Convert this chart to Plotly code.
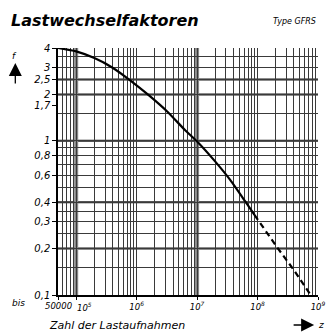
import plotly.graph_objects as go
import numpy as np

# Curve data (number of load cycles N, factor f)
curve_n_solid = [5e4, 1e5, 2e5, 4e5, 8e5, 1.6e6, 3.2e6, 6.3e6, 1e7, 2e7, 3.55e7, 6.3e7, 8.9e7]
curve_f_solid = [4.0, 3.80, 3.44, 2.98, 2.45, 1.97, 1.55, 1.175, 0.99, 0.733, 0.556, 0.403, 0.331]
curve_n_dash = [8.9e7, 2.1e8, 4.0e8, 7.3e8]
curve_f_dash = [0.331, 0.204, 0.145, 0.102]

# Axis labels
y_tick_vals = [0.1, 0.2, 0.3, 0.4, 0.6, 0.8, 1, 1.7, 2, 2.5, 3, 4]
y_tick_text = ["0,1", "0,2", "0,3", "0,4", "0,6", "0,8", "1", "1,7", "2", "2,5", "3", "4"]
y_grid_vals = [0.1, 0.15, 0.2, 0.25, 0.3, 0.35, 0.4, 0.5, 0.6, 0.7, 0.8, 0.9, 1, 1.5, 2, 2.5, 3, 3.5, 4]
y_thick = [2.5, 2, 1, 0.4, 0.2]

x_tick_vals = [5e4, 1e5, 1e6, 1e7, 1e8, 1e9]
x_tick_text = ["", "", "10<sup>6</sup>", "10<sup>7</sup>", "10<sup>8</sup>", "10<sup>9</sup>"]
x_low_label_vals = [5e4, 1e5]
x_low_label_text = ["50000", "10<sup>5</sup>"]
x_grid_vals = [m * 10 ** d for d in range(4, 9) for m in range(1, 10) if 5e4 <= m * 10 ** d <= 1e9] + [1e9]
x_thick = [1e5, 1e7]

FONT = "DejaVu Sans"
GRID = "#3a3a3a"

fig = go.Figure()
fig.add_trace(go.Scatter(x=curve_n_solid, y=curve_f_solid, mode="lines",
                         line=dict(color="black", width=2.2, shape="spline", smoothing=0.5),
                         showlegend=False))
fig.add_trace(go.Scatter(x=curve_n_dash, y=curve_f_dash, mode="lines",
                         line=dict(color="black", width=2.2, dash="6px,4px"), showlegend=False))

for yv in y_thick:
    fig.add_shape(type="line", xref="paper", yref="y", x0=0, x1=1, y0=yv, y1=yv,
                  line=dict(color="#1a1a1a", width=2), layer="below")
for xv in x_thick:
    fig.add_shape(type="line", xref="x", yref="paper", x0=xv, x1=xv, y0=0, y1=1,
                  line=dict(color="#888", width=4), layer="below")

fig.update_layout(
    width=335, height=334,
    margin=dict(l=58, r=9, t=48, b=39),
    paper_bgcolor="white", plot_bgcolor="white",
    showlegend=False,
    font=dict(family=FONT, color="black"),
    xaxis=dict(type="log", range=[np.log10(5e4), 9],
               tickmode="array", tickvals=x_tick_vals, ticktext=x_tick_text,
               tickfont=dict(size=8.5, style="italic", family=FONT), tickangle=0,
               ticks="outside", ticklen=3, tickcolor="black",
               showgrid=False, zeroline=False,
               showline=True, linecolor="black", linewidth=1.5,
               minor=dict(tickmode="array", tickvals=x_grid_vals, showgrid=True,
                          gridcolor=GRID, gridwidth=1, ticks="")),
    yaxis=dict(type="log", range=[-1, np.log10(4)],
               tickmode="array", tickvals=y_tick_vals, ticktext=y_tick_text,
               tickfont=dict(size=10, style="italic", family=FONT),
               ticks="outside", ticklen=4, tickcolor="black",
               showgrid=False, zeroline=False,
               showline=True, linecolor="black", linewidth=1.5,
               minor=dict(tickmode="array", tickvals=y_grid_vals, showgrid=True,
                          gridcolor=GRID, gridwidth=1, ticks="")),
)

# low-end x labels: "50000" centred on its tick, "10^5" starting at its tick
fig.add_annotation(xref="x", yref="paper", x=np.log10(x_low_label_vals[0]), y=0, yshift=-4,
                   text="<i>%s</i>" % x_low_label_text[0], showarrow=False,
                   xanchor="center", yanchor="top", font=dict(size=8.5, family=FONT))
fig.add_annotation(xref="x", yref="paper", x=np.log10(x_low_label_vals[1]), y=0, yshift=-4, xshift=-1,
                   text="<i>%s</i>" % x_low_label_text[1], showarrow=False,
                   xanchor="left", yanchor="top", font=dict(size=8.5, family=FONT))

W, H = 268.0, 247.0
def px(x):
    return (x - 58) / W
def py(y):
    return (295 - y) / H

anns = [
    dict(text="<b><i>Lastwechselfaktoren</i></b>", x=px(7), y=py(21), xanchor="left", yanchor="middle",
         font=dict(size=16, family=FONT)),
    dict(text="<i>Type GFRS</i>", x=px(326), y=py(22), xanchor="right", yanchor="middle",
         font=dict(size=8, family=FONT)),
    dict(text="<i>f</i>", x=px(13), y=py(56), xanchor="center", yanchor="middle",
         font=dict(size=9, family=FONT)),
    dict(text="<i>bis</i>", x=px(17), y=py(303), xanchor="center", yanchor="middle",
         font=dict(size=9, family=FONT)),
    dict(text="<i>Zahl der Lastaufnahmen</i>", x=px(119), y=py(325), xanchor="center", yanchor="middle",
         font=dict(size=11, family=FONT)),
    dict(text="<i>z</i>", x=px(329), y=py(325), xanchor="center", yanchor="middle",
         font=dict(size=9, family=FONT)),
]
for a in anns:
    fig.add_annotation(xref="paper", yref="paper", showarrow=False, **a)

# up arrow for f
fig.add_annotation(xref="paper", yref="paper", x=px(14), y=py(63), text="", showarrow=True,
                   ax=0, ay=22, arrowhead=2, arrowsize=2, arrowwidth=1.3, arrowcolor="black")
# right arrow for z
fig.add_annotation(xref="paper", yref="paper", x=px(322), y=py(325), text="", showarrow=True,
                   ax=-22, ay=0, arrowhead=2, arrowsize=2, arrowwidth=1.3, arrowcolor="black")

fig.write_html("out.html")
